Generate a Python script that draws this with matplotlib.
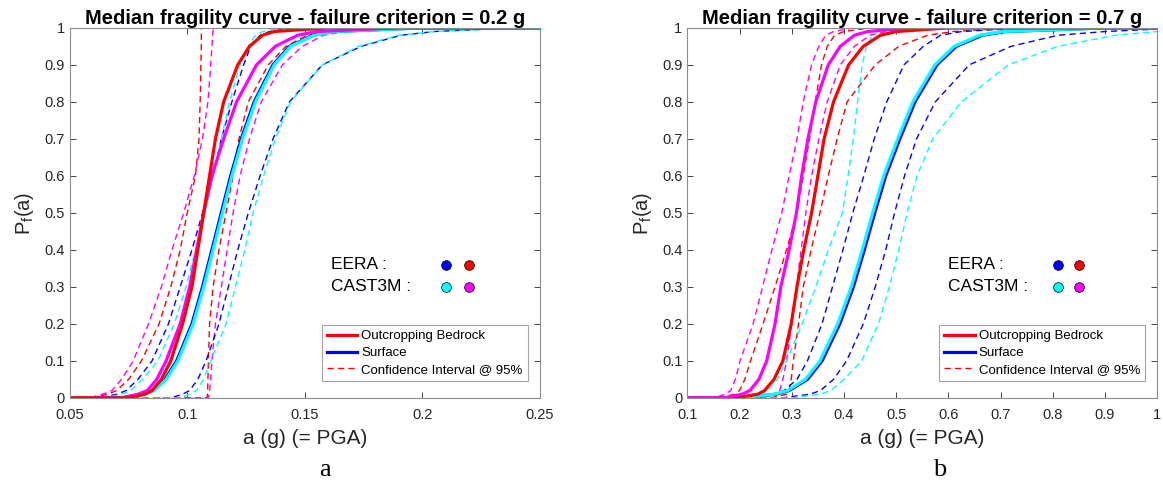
import matplotlib
matplotlib.use("Agg")
import matplotlib.pyplot as plt
from matplotlib.lines import Line2D
from matplotlib.ticker import FuncFormatter

plt.rcParams['font.family'] = ['Liberation Sans', 'DejaVu Sans']

P = [0, 0.01, 0.02, 0.05, 0.1, 0.2, 0.3, 0.4, 0.5, 0.6, 0.7, 0.8, 0.9, 0.95, 0.98, 0.99, 1.0]

# ---- panel a : failure criterion 0.2 g ----
a_eera_rock = [0.075, 0.082, 0.085, 0.089, 0.093, 0.098, 0.102, 0.1045, 0.107, 0.1095, 0.112, 0.1155, 0.1215, 0.1265, 0.132, 0.137, 0.16]
a_cast_rock = [0.072, 0.079, 0.083, 0.087, 0.091, 0.097, 0.101, 0.104, 0.107, 0.1105, 0.1155, 0.121, 0.1295, 0.1375, 0.147, 0.155, 0.19]
a_eera_surf = [0.072, 0.081, 0.0855, 0.0905, 0.0955, 0.102, 0.1065, 0.1105, 0.1145, 0.1185, 0.123, 0.1285, 0.1365, 0.1435, 0.1535, 0.162, 0.2]
a_cast_surf = [0.072, 0.0815, 0.086, 0.091, 0.096, 0.1025, 0.107, 0.111, 0.115, 0.119, 0.1235, 0.129, 0.137, 0.144, 0.154, 0.163, 0.2]
a_eera_rock_lo = [0.060, 0.066, 0.070, 0.075, 0.0805, 0.088, 0.093, 0.097, 0.100, 0.1035, 0.105, 0.1055, 0.1058, 0.106, 0.106, 0.106, 0.106]
a_eera_rock_hi = [0.1085, 0.1086, 0.1087, 0.1088, 0.109, 0.1095, 0.111, 0.1135, 0.1165, 0.1195, 0.122, 0.126, 0.1345, 0.142, 0.151, 0.16, 0.19]
a_cast_rock_lo = [0.058, 0.064, 0.068, 0.072, 0.077, 0.0835, 0.089, 0.0935, 0.0985, 0.103, 0.1065, 0.1088, 0.110, 0.1105, 0.1108, 0.111, 0.111]
a_cast_rock_hi = [0.109, 0.1092, 0.1095, 0.110, 0.1105, 0.112, 0.1145, 0.117, 0.1195, 0.1225, 0.1265, 0.1315, 0.1405, 0.149, 0.158, 0.167, 0.2]
a_eera_surf_lo = [0.063, 0.070, 0.074, 0.079, 0.085, 0.092, 0.097, 0.102, 0.1065, 0.111, 0.1145, 0.119, 0.124, 0.127, 0.131, 0.135, 0.145]
a_eera_surf_hi = [0.093, 0.098, 0.101, 0.1045, 0.108, 0.1135, 0.1175, 0.1215, 0.126, 0.131, 0.1365, 0.1435, 0.1575, 0.174, 0.191, 0.205, 0.24]
a_cast_surf_lo = [0.065, 0.072, 0.076, 0.081, 0.0875, 0.0945, 0.0995, 0.1035, 0.1075, 0.111, 0.1145, 0.118, 0.1225, 0.126, 0.129, 0.132, 0.14]
a_cast_surf_hi = [0.097, 0.101, 0.104, 0.107, 0.110, 0.1165, 0.1205, 0.1245, 0.128, 0.1325, 0.1375, 0.144, 0.1575, 0.173, 0.19, 0.205, 0.24]

# ---- panel b : failure criterion 0.7 g ----
b_eera_rock = [0.19, 0.235, 0.248, 0.266, 0.283, 0.299, 0.31, 0.323, 0.338, 0.35, 0.362, 0.38, 0.409, 0.437, 0.47, 0.5, 0.6]
b_cast_rock = [0.17, 0.205, 0.22, 0.237, 0.252, 0.268, 0.279, 0.295, 0.309, 0.319, 0.331, 0.346, 0.37, 0.393, 0.42, 0.445, 0.52]
b_eera_surf = [0.20, 0.27, 0.295, 0.33, 0.358, 0.392, 0.418, 0.439, 0.459, 0.48, 0.507, 0.536, 0.578, 0.615, 0.665, 0.71, 0.9]
b_cast_surf = [0.20, 0.267, 0.292, 0.326, 0.354, 0.388, 0.414, 0.435, 0.455, 0.476, 0.503, 0.532, 0.574, 0.611, 0.66, 0.705, 0.9]
b_eera_rock_lo = [0.16, 0.19, 0.20, 0.21, 0.221, 0.245, 0.268, 0.29, 0.31, 0.322, 0.334, 0.345, 0.357, 0.368, 0.382, 0.40, 0.45]
b_eera_rock_hi = [0.26, 0.29, 0.295, 0.299, 0.303, 0.313, 0.322, 0.337, 0.354, 0.37, 0.387, 0.406, 0.46, 0.505, 0.56, 0.61, 0.72]
b_cast_rock_lo = [0.15, 0.173, 0.183, 0.192, 0.201, 0.226, 0.244, 0.262, 0.281, 0.295, 0.31, 0.322, 0.338, 0.352, 0.365, 0.38, 0.42]
b_cast_rock_hi = [0.24, 0.27, 0.277, 0.283, 0.29, 0.30, 0.309, 0.318, 0.327, 0.338, 0.352, 0.368, 0.393, 0.42, 0.45, 0.48, 0.55]
b_eera_surf_lo = [0.22, 0.27, 0.285, 0.31, 0.33, 0.358, 0.378, 0.398, 0.417, 0.438, 0.458, 0.482, 0.515, 0.552, 0.585, 0.625, 0.75]
b_eera_surf_hi = [0.28, 0.335, 0.355, 0.38, 0.405, 0.437, 0.46, 0.48, 0.497, 0.516, 0.539, 0.575, 0.64, 0.72, 0.81, 0.9, 1.05]
b_cast_surf_lo = [0.19, 0.24, 0.255, 0.272, 0.29, 0.32, 0.346, 0.37, 0.397, 0.408, 0.418, 0.426, 0.435, 0.443, 0.455, 0.465, 0.5]
b_cast_surf_hi = [0.30, 0.355, 0.375, 0.40, 0.434, 0.466, 0.487, 0.505, 0.521, 0.54, 0.57, 0.625, 0.715, 0.81, 0.92, 1.0, 1.2]

titles = ["Median fragility curve - failure criterion = 0.2 g",
          "Median fragility curve - failure criterion = 0.7 g"]
xlims = [(0.05, 0.25), (0.1, 1.0)]
xticks = [[0.05, 0.1, 0.15, 0.2, 0.25], [0.1, 0.2, 0.3, 0.4, 0.5, 0.6, 0.7, 0.8, 0.9, 1.0]]
panel_letters = ["a", "b"]
legend_labels = ["Outcropping Bedrock", "Surface", "Confidence Interval @ 95%"]

RED, BLUE, CYAN, MAG = (1, 0, 0), (0, 0, 1), (0, 1, 1), (1, 0, 1)
DASH = (0, (4.5, 3))

fig = plt.figure(figsize=(11.63, 4.8), dpi=100)
ax_a = fig.add_axes([0.060, 0.171, 0.404, 0.771])
ax_b = fig.add_axes([0.591, 0.171, 0.404, 0.771])

panels = [
    (ax_a, [(a_eera_rock_lo, RED), (a_eera_rock_hi, RED), (a_cast_rock_lo, MAG), (a_cast_rock_hi, MAG),
            (a_eera_surf_lo, BLUE), (a_eera_surf_hi, BLUE), (a_cast_surf_lo, CYAN), (a_cast_surf_hi, CYAN)],
     [(a_eera_surf, BLUE), (a_cast_surf, CYAN), (a_cast_rock, MAG), (a_eera_rock, RED)],
     (0.161, 0.21, 0.22)),
    (ax_b, [(b_eera_rock_lo, RED), (b_eera_rock_hi, RED), (b_cast_rock_lo, MAG), (b_cast_rock_hi, MAG),
            (b_eera_surf_lo, BLUE), (b_eera_surf_hi, BLUE), (b_cast_surf_lo, CYAN), (b_cast_surf_hi, CYAN)],
     [(b_eera_surf, BLUE), (b_cast_surf, CYAN), (b_eera_rock, RED), (b_cast_rock, MAG)],
     (0.6, 0.81, 0.85)),
]

fmt = FuncFormatter(lambda v, pos: "%g" % round(v, 3))

for i, (ax, dashed, solid, (tx, c1, c2)) in enumerate(panels):
    x0, x1 = xlims[i]
    for xs, col in dashed:
        ax.plot([x0] + xs + [x1 + 0.5], [0] + P + [1], color=col, lw=1.0, linestyle=DASH)
    for xs, col in solid:
        ax.plot([x0] + xs + [x1 + 0.5], [0] + P + [1], color=col, lw=2.3)

    ax.set_xlim(x0, x1)
    ax.set_ylim(0, 1)
    ax.set_xticks(xticks[i])
    ax.set_yticks([0, 0.1, 0.2, 0.3, 0.4, 0.5, 0.6, 0.7, 0.8, 0.9, 1.0])
    ax.xaxis.set_major_formatter(fmt)
    ax.yaxis.set_major_formatter(fmt)
    ax.tick_params(direction='in', top=True, right=True, length=4, width=0.6,
                   colors='#262626', labelsize=10.5, labelcolor='#262626')
    ax.tick_params(axis='x', pad=7)
    for sp in ax.spines.values():
        sp.set_color('#8c8c8c')
        sp.set_linewidth(0.8)

    ax.set_title(titles[i], fontsize=14.5, fontweight='bold', pad=3)
    ax.set_xlabel("a (g) (= PGA)", fontsize=15, color='#262626', labelpad=5)
    ax.set_ylabel(r"P$_\mathregular{f}$(a)", fontsize=14.5, color='#262626', labelpad=6)

    # EERA / CAST3M colour key
    ax.text(tx, 0.36, "EERA :", fontsize=12.5, va='center', ha='left')
    ax.text(tx, 0.30, "CAST3M :", fontsize=12.5, va='center', ha='left')
    ax.plot([c1], [0.36], 'o', ms=7, mfc=BLUE, mec='k', mew=0.5)
    ax.plot([c2], [0.36], 'o', ms=7, mfc=RED, mec='k', mew=0.5)
    ax.plot([c1], [0.30], 'o', ms=7, mfc=CYAN, mec='k', mew=0.5)
    ax.plot([c2], [0.30], 'o', ms=7, mfc=MAG, mec='k', mew=0.5)

    handles = [Line2D([], [], color=RED, lw=2.3),
               Line2D([], [], color=BLUE, lw=2.3),
               Line2D([], [], color=RED, lw=1.0, linestyle=DASH)]
    leg = ax.legend(handles, legend_labels, loc='lower right', bbox_to_anchor=(0.975, 0.045),
                    fontsize=9.5, frameon=True, fancybox=False, handlelength=2.3,
                    handletextpad=0.3, borderpad=0.4, labelspacing=0.35, borderaxespad=0)
    leg.get_frame().set_edgecolor('#8c8c8c')
    leg.get_frame().set_linewidth(0.8)

fig.text(325 / 1163, 1 - 470 / 480, panel_letters[0], fontsize=19, family='Liberation Serif',
         ha='center', va='center')
fig.text(940 / 1163, 1 - 470 / 480, panel_letters[1], fontsize=19, family='Liberation Serif',
         ha='center', va='center')

fig.savefig("out.png", dpi=100)
